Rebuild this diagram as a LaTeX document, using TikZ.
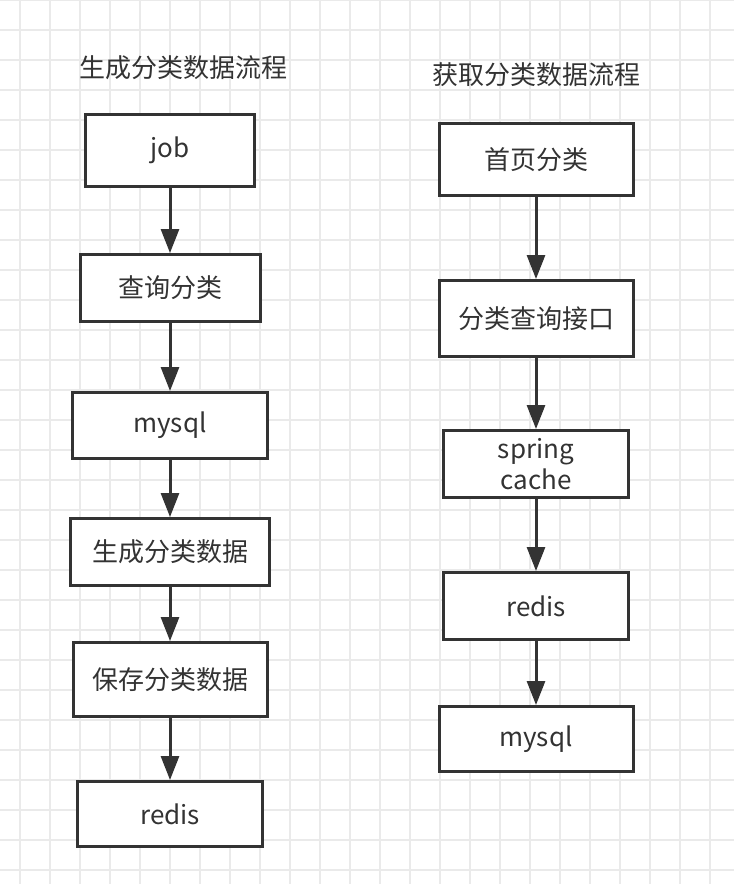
\documentclass[tikz,border=0pt]{standalone}
\usepackage{fontspec}
\setmainfont{Noto Sans CJK SC}
\usepackage{xcolor}
\usetikzlibrary{arrows.meta}
\definecolor{inkgray}{HTML}{333333}
\definecolor{gridgray}{HTML}{EAEAEA}

\begin{document}
\begin{tikzpicture}[
  x=1pt, y=-1pt,
  box/.style={draw=inkgray, line width=3pt, fill=white, align=center,
              font=\fontsize{26}{31}\selectfont, text=inkgray, inner sep=2pt},
  ttl/.style={font=\fontsize{26}{31}\selectfont, text=inkgray, inner sep=0pt},
  arr/.style={-{Triangle[length=24pt, width=18pt]}, line width=3pt, draw=inkgray}
]
\useasboundingbox (0,0) rectangle (734,884);
\fill[white] (0,0) rectangle (734,884);

%% Background grid
\foreach \gx in {20,50,...,740} {\draw[gridgray, line width=1.2pt] (\gx,0) -- (\gx,884);}
\foreach \gy in {0,30,...,880} {\draw[gridgray, line width=1.2pt] (0,\gy) -- (734,\gy);}

%% Titles
\node[ttl] (tgen) at (183,68) {生成分类数据流程};
\node[ttl] (tget) at (536,75) {获取分类数据流程};

%% Left flow: generate category data
\node[box, minimum width=169pt, minimum height=72pt] (ljob)  at (170,150.5) {job};
\node[box, minimum width=180pt, minimum height=67pt] (lqry)  at (170,288)   {查询分类};
\node[box, minimum width=195pt, minimum height=66pt] (lsql)  at (170,425.5) {mysql};
\node[box, minimum width=199pt, minimum height=67pt] (lgen)  at (170,552)   {生成分类数据};
\node[box, minimum width=194pt, minimum height=74pt] (lsave) at (170,679.5) {保存分类数据};
\node[box, minimum width=185pt, minimum height=65pt] (lrds)  at (170,814)   {redis};

\draw[arr] (ljob) -- (lqry);
\draw[arr] (lqry) -- (lsql);
\draw[arr] (lsql) -- (lgen);
\draw[arr] (lgen) -- (lsave);
\draw[arr] (lsave) -- (lrds);

%% Right flow: fetch category data
\node[box, minimum width=194pt, minimum height=72pt] (rhome) at (536,159.5) {首页分类};
\node[box, minimum width=194pt, minimum height=76pt] (rapi)  at (536,318.5) {分类查询接口};
\node[box, minimum width=185pt, minimum height=67pt] (rcch)  at (536,464)   {spring\\cache};
\node[box, minimum width=185pt, minimum height=67pt] (rrds)  at (536,606)   {redis};
\node[box, minimum width=194pt, minimum height=65pt] (rsql)  at (536,739)   {mysql};

\draw[arr] (rhome) -- (rapi);
\draw[arr] (rapi) -- (rcch);
\draw[arr] (rcch) -- (rrds);
\draw[arr] (rrds) -- (rsql);
\end{tikzpicture}
\end{document}
